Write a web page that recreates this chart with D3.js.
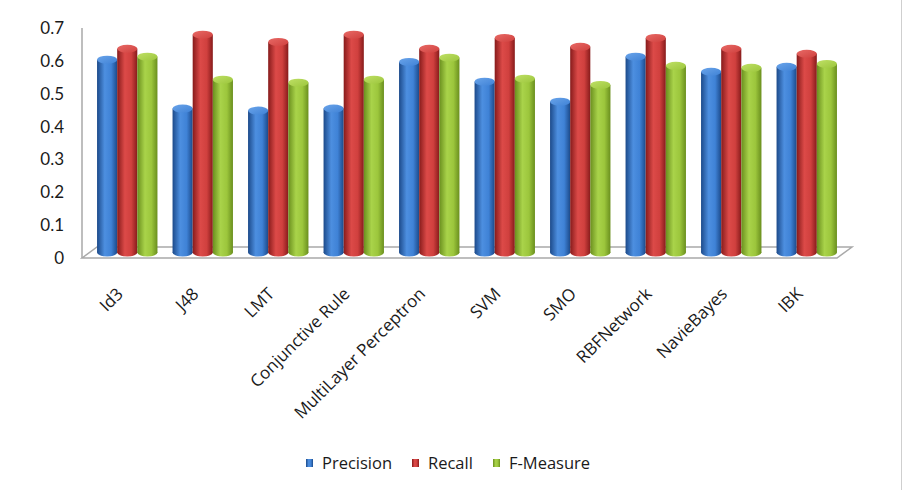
<!DOCTYPE html>
<html>
<head>
<meta charset="utf-8">
<script src="https://cdn.jsdelivr.net/npm/d3@7"></script>
<style>
  html, body { margin: 0; padding: 0; background: #fff; }
  svg { display: block; }
  text { font-family: "Open Sans", Lato, sans-serif; fill: #1a1a1a; }
</style>
</head>
<body>
<svg id="chart" width="904" height="490"></svg>
<script>
const categories = ["Id3", "J48", "LMT", "Conjunctive Rule", "MultiLayer Perceptron", "SVM", "SMO", "RBFNetwork", "NavieBayes", "IBK"];
const seriesNames = ["Precision", "Recall", "F-Measure"];
const precision = [0.587, 0.438, 0.432, 0.438, 0.580, 0.520, 0.459, 0.596, 0.550, 0.565];
const recall    = [0.620, 0.663, 0.641, 0.663, 0.620, 0.653, 0.626, 0.653, 0.620, 0.605];
const fmeasure  = [0.596, 0.526, 0.517, 0.526, 0.593, 0.529, 0.510, 0.568, 0.562, 0.574];
const yTicks = [0, 0.1, 0.2, 0.3, 0.4, 0.5, 0.6, 0.7];

const seriesValues = [precision, recall, fmeasure];
const colors = [
  {dark: "#1c4a8a", mid: "#4d8fe0", light: "#6aa4ea", cap: "#3f82d6"},
  {dark: "#871b1b", mid: "#dc4a48", light: "#e86a66", cap: "#d0403e"},
  {dark: "#6a8f1e", mid: "#a9d34a", light: "#bfe066", cap: "#9cc63c"}
];

const svg = d3.select("#chart");
const defs = svg.append("defs");
colors.forEach((c, i) => {
  const g = defs.append("linearGradient").attr("id", "body" + i).attr("x1", 0).attr("x2", 1).attr("y1", 0).attr("y2", 0);
  g.append("stop").attr("offset", "0%").attr("stop-color", c.dark);
  g.append("stop").attr("offset", "38%").attr("stop-color", c.mid);
  g.append("stop").attr("offset", "70%").attr("stop-color", c.cap);
  g.append("stop").attr("offset", "100%").attr("stop-color", c.dark);
  const t = defs.append("linearGradient").attr("id", "cap" + i).attr("x1", 0).attr("x2", 1).attr("y1", 0).attr("y2", 1);
  t.append("stop").attr("offset", "0%").attr("stop-color", c.light);
  t.append("stop").attr("offset", "100%").attr("stop-color", c.cap);
});

// 3D geometry
const depthX = 15, depthY = -11;          // floor depth offset (front -> back)
const frontLeft = 82, frontRight = 837, frontBase = 258;
const yFront = d3.scaleLinear().domain([0, 0.7]).range([frontBase, frontBase - 230]);
const yBar = d3.scaleLinear().domain([0, 0.7]).range([frontBase + depthY / 2, frontBase + depthY / 2 - 230]);

const x0 = d3.scaleBand().domain(categories)
  .range([frontLeft + depthX / 2, frontRight + depthX / 2])
  .paddingInner(0.2).paddingOuter(0.1);
const x1 = d3.scaleBand().domain(seriesNames).range([0, x0.bandwidth()]);

// right frame line
svg.append("line").attr("x1", 901.5).attr("x2", 901.5).attr("y1", 0).attr("y2", 490)
  .attr("stroke", "#cfcfcf").attr("stroke-width", 1);

// floor
const floorPts = [
  [frontLeft, frontBase], [frontLeft + depthX, frontBase + depthY],
  [frontRight + depthX, frontBase + depthY], [frontRight, frontBase]
];
svg.append("polygon").attr("points", floorPts.map(p => p.join(",")).join(" "))
  .attr("fill", "#fff").attr("stroke", "#a9a9a9").attr("stroke-width", 1.5);

// vertical axis line
svg.append("line").attr("x1", frontLeft).attr("x2", frontLeft)
  .attr("y1", yFront(0)).attr("y2", yFront(0.7))
  .attr("stroke", "#a9a9a9").attr("stroke-width", 1.5);

// y axis labels
const yAxis = d3.axisLeft(yFront).tickValues(yTicks).tickSize(0).tickPadding(0)
  .tickFormat(d => d === 0 ? "0" : d3.format(".1f")(d));
const yg = svg.append("g").attr("transform", "translate(64,0)").call(yAxis);
yg.select(".domain").remove();
yg.selectAll("text").style("font-family", "Lato, sans-serif").style("font-size", "17px").attr("fill", "#1a1a1a");

// bars (cylinders)
const ry = 4;
const groups = svg.append("g").selectAll("g").data(categories).join("g")
  .attr("transform", d => `translate(${x0(d)},0)`);
groups.each(function(cat, ci) {
  const g = d3.select(this);
  seriesNames.forEach((s, si) => {
    const v = seriesValues[si][ci];
    const bx = x1(s), bw = x1.bandwidth();
    const top = yBar(v), base = yBar(0);
    g.append("ellipse").attr("cx", bx + bw / 2).attr("cy", base).attr("rx", bw / 2).attr("ry", ry)
      .attr("fill", `url(#body${si})`);
    g.append("rect").attr("x", bx).attr("y", top).attr("width", bw).attr("height", base - top)
      .attr("fill", `url(#body${si})`);
    g.append("ellipse").attr("cx", bx + bw / 2).attr("cy", top).attr("rx", bw / 2).attr("ry", ry)
      .attr("fill", `url(#cap${si})`);
  });
});

// x labels
svg.append("g").selectAll("text").data(categories).join("text")
  .attr("transform", d => `translate(${x0(d) + x0.bandwidth() / 2 - 3},295) rotate(-45)`)
  .attr("text-anchor", "end")
  .style("font-size", "17px")
  .text(d => d);

// legend
const legendItems = [
  {name: "Precision", sx: 306, tx: 322},
  {name: "Recall", sx: 412, tx: 428},
  {name: "F-Measure", sx: 493, tx: 509}
];
const lg = svg.append("g");
seriesNames.forEach((s, i) => {
  const it = legendItems[i];
  lg.append("rect").attr("x", it.sx).attr("y", 459).attr("width", 7).attr("height", 8)
    .attr("fill", `url(#body${i})`);
  lg.append("text").attr("x", it.tx).attr("y", 469).style("font-size", "16.5px").text(s);
});
</script>
</body>
</html>
